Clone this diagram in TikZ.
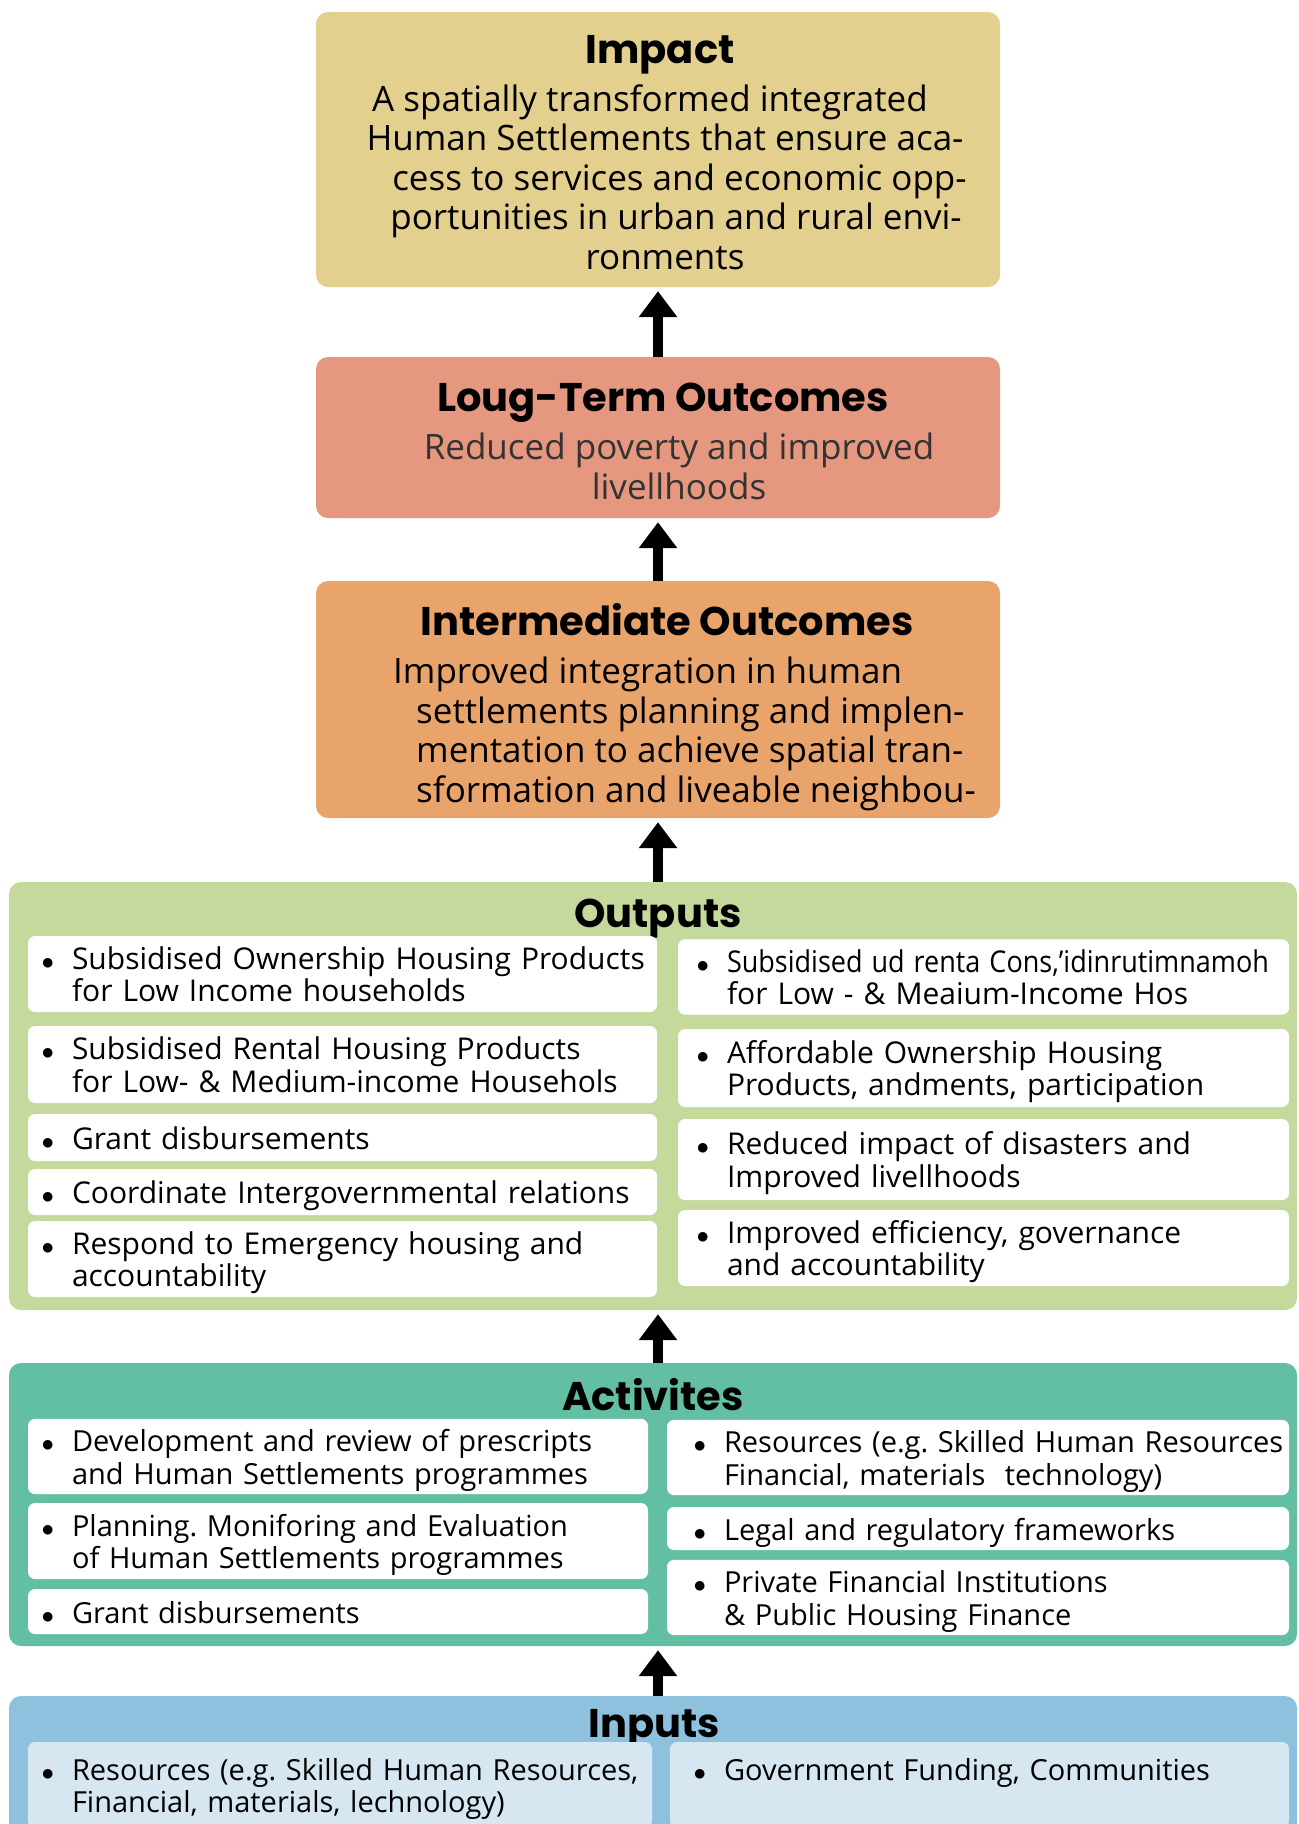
\documentclass[tikz,border=0pt]{standalone}
\usepackage{fontspec}
\usepackage{graphicx}
\setmainfont{Open Sans}
\newfontfamily\headfont{Poppins}
\usetikzlibrary{arrows.meta}

\definecolor{impactcol}{HTML}{E4D08E}
\definecolor{longcol}{HTML}{E5977F}
\definecolor{midcol}{HTML}{E9A46C}
\definecolor{outcol}{HTML}{C4D99B}
\definecolor{actcol}{HTML}{63BFA3}
\definecolor{incol}{HTML}{8DC1DE}
\definecolor{insub}{HTML}{D6E7F1}

% bullet, then the lines of one list box (optional: indent of the text)
\newcommand{\itembul}[2][34pt]{\makebox[#1][r]{\rule{0pt}{33pt}$\bullet$\hspace{18pt}}\begin{tabular}[t]{@{}l@{}}#2\end{tabular}}

\tikzset{
  stage/.style={rounded corners=12pt, minimum width=684pt, inner sep=0pt},
  frame/.style={rounded corners=12pt, minimum width=1288pt, inner sep=0pt},
  head/.style={font=\headfont\bfseries\fontsize{40}{44}\selectfont, inner sep=0pt},
  body/.style={font=\fontsize{35}{39.5}\selectfont, align=center, inner sep=0pt},
  item/.style={fill=white, rounded corners=7pt, inner xsep=10pt, inner ysep=0pt, align=left,
    font=\fontsize{30}{32.5}\selectfont},
  small/.style={font=\fontsize{29}{32.5}\selectfont},
  uparrow/.style={line width=10pt, -{Triangle[width=37pt,length=26pt]}, shorten >=4pt}
}

\begin{document}
\frenchspacing
\begin{tikzpicture}[x=1pt,y=-1pt]
\useasboundingbox (0,0) rectangle (1299,1824);
\clip (0,0) rectangle (1299,1824);

% top three stages
\node[stage, fill=impactcol, minimum height=275pt] (impact) at (658,149.5) {};
\node[head] (impactT) at (660,55) {Impact};
\node[body] (impactB) at (665,177) {\hspace*{-30pt}A spatially transformed integrated\\Human Settlements that ensure aca-\\\hspace*{29pt}cess to services and economic opp-\\\hspace*{22pt}portunities in urban and rural envi-\\ronments};

\node[stage, fill=longcol, minimum height=161pt] (longterm) at (658,437.5) {};
\node[head] (longtermT) at (663,403) {Loug-Term Outcomes};
\node[body, text=black!80] (longtermB) at (679,466.5) {Reduced poverty and improved\\livellhoods};

\node[stage, fill=midcol, minimum height=237pt] (intermed) at (658,699.5) {};
\node[head] (intermedT) at (667,620) {Intermediate Outcomes};
\node[body, align=left, anchor=west] (intermedB) at (393,734) {Improved integration in human\\\hspace*{23pt}settlements planning and implen-\\\hspace*{23pt}mentation to achieve spatial tran-\\\hspace*{23pt}sformation and liveable neighbou-};

% outputs
\node[frame, fill=outcol, minimum height=428pt] (outputs) at (653,1096) {};
\node[head] (outputsT) at (658,919) {Outputs};
\node[item, text width=609pt, minimum height=76pt] (outL1) at (342.5,974) {\itembul{Subsidised Ownership Housing Products\\for Low Income households}};
\node[item, text width=609pt, minimum height=77pt] (outL2) at (342.5,1064.5) {\itembul{Subsidised Rental Housing Products\\for Low- \& Medium-income Househols}};
\node[item, text width=609pt, minimum height=47pt] (outL3) at (342.5,1137.5) {\itembul{Grant disbursements}};
\node[item, text width=609pt, minimum height=46pt] (outL4) at (342.5,1192) {\itembul{Coordinate Intergovernmental relations}};
\node[item, text width=609pt, minimum height=76pt] (outL5) at (342.5,1259) {\itembul{Respond to Emergency housing and\\accountability}};
\node[item, text width=591pt, minimum height=74pt] (outR1) at (983.5,977) {\itembul[39pt]{\scalebox{0.9}[1]{Subsidised ud renta Cons,'idinrutimnamoh}\\for Low - \& Meaium-Income Hos}};
\node[item, text width=591pt, minimum height=78pt] (outR2) at (983.5,1068) {\itembul[39pt]{Affordable Ownership Housing\\Products, andments, participation}};
\node[item, text width=591pt, minimum height=81pt] (outR3) at (983.5,1159.5) {\itembul[39pt]{Reduced impact of disasters and\\Improved livellhoods}};
\node[item, text width=591pt, minimum height=76pt] (outR4) at (983.5,1248) {\itembul[39pt]{Improved efficiency, governance\\and accountability}};

% activities
\node[frame, fill=actcol, minimum height=283pt] (activities) at (653,1504.5) {};
\node[head] (activitiesT) at (653,1395) {Activites};
\node[item, small, text width=600pt, minimum height=71pt] (actL1) at (338,1456.5) {\itembul{Development and review of prescripts\\and Human Settlements programmes}};
\node[item, small, text width=600pt, minimum height=76pt] (actL2) at (338,1541) {\itembul{Planning. Moniforing and Evaluation\\of Human Settlements programmes}};
\node[item, small, text width=600pt, minimum height=45pt] (actL3) at (338,1611.5) {\itembul{Grant disbursements}};
\node[item, small, text width=602pt, minimum height=73pt] (actR1) at (978,1457.5) {\itembul[47pt]{Resources (e.g. Skilled Human Resources\\Financial, materials\ \ technology)}};
\node[item, small, text width=602pt, minimum height=43pt] (actR2) at (978,1528.5) {\itembul[47pt]{Legal and regulatory frameworks}};
\node[item, small, text width=602pt, minimum height=73pt] (actR3) at (978,1597.5) {\itembul[47pt]{Private Financial Institutions\\\& Public Housing Finance}};

% inputs
\node[frame, fill=incol, minimum height=160pt] (inputs) at (653,1776) {};
\node[head] (inputsT) at (654,1729) {Inputs};
\node[item, small, fill=insub, text width=604pt, minimum height=86pt] (inL) at (340,1785) {\itembul{Resources (e.g. Skilled Human Resources,\\Financial, materials, lechnology)}};
\node[item, small, fill=insub, text width=599pt, minimum height=86pt] (inR) at (979.5,1785) {\itembul[44pt]{Government Funding, Communities\\\mbox{}}};

% arrows between the stages
\draw[uparrow] (longterm.north) -- (impact.south);
\draw[uparrow] (intermed.north) -- (longterm.south);
\draw[uparrow] (outputs.north -| intermed.south) -- (intermed.south);
\draw[uparrow] (activities.north -| intermed.south) -- (outputs.south -| intermed.south);
\draw[uparrow] (inputs.north -| intermed.south) -- (activities.south -| intermed.south);
\end{tikzpicture}
\end{document}
